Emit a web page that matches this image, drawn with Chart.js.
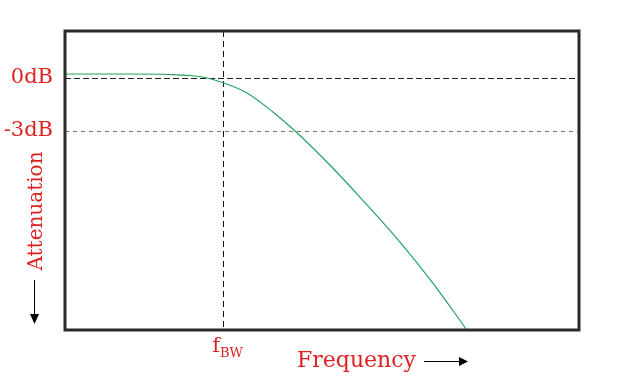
<!DOCTYPE html>
<html>
<head>
<meta charset="utf-8">
<script src="https://cdn.jsdelivr.net/npm/chart.js@4"></script>
<style>
  html, body { margin: 0; padding: 0; background: #fff; }
  #wrap { width: 630px; height: 378px; }
</style>
</head>
<body>
<div id="wrap"><canvas id="myChart"></canvas></div>
<script>
// frequency (relative to fBW) and attenuation in dB
const freq = [0, 0.409, 0.660, 0.786, 0.881, 1.0, 1.145, 1.308, 1.447, 1.635, 1.855, 2.107, 2.314, 2.528];
const gain = [0.226, 0.226, 0.198, 0.142, 0.028, -0.283, -0.849, -1.925, -3.0, -4.641, -6.736, -9.283, -11.604, -14.264];
const dbTicks = [0, -3];
const dbLabels = ['0dB', '-3dB'];
const fBW = 1;

const red = '#dd2222';
const serif = '"DejaVu Serif", serif';

const points = freq.map((f, i) => ({ x: f, y: gain[i] }));

// draws box, axis titles, arrows and the f_BW label
const decor = {
  id: 'decor',
  afterDraw(chart) {
    const { ctx, chartArea: a, scales } = chart;
    ctx.save();
    ctx.strokeStyle = '#2a2a2a';
    ctx.lineWidth = 3;
    ctx.strokeRect(a.left, a.top, a.right - a.left, a.bottom - a.top);

    ctx.fillStyle = red;
    // f_BW under the cutoff line
    const xf = scales.x.getPixelForValue(fBW);
    ctx.font = '21px ' + serif;
    ctx.textBaseline = 'alphabetic';
    ctx.textAlign = 'right';
    ctx.fillText('f', xf - 4, 352);
    ctx.font = '13px ' + serif;
    ctx.textAlign = 'left';
    ctx.fillText('BW', xf - 4, 357);

    // Frequency + arrow
    ctx.font = '22px ' + serif;
    ctx.textAlign = 'left';
    ctx.fillText('Frequency', 297, 367);
    ctx.strokeStyle = '#000';
    ctx.fillStyle = '#000';
    ctx.lineWidth = 1;
    ctx.beginPath();
    ctx.moveTo(424, 361.5);
    ctx.lineTo(460, 361.5);
    ctx.stroke();
    ctx.beginPath();
    ctx.moveTo(468, 361.5);
    ctx.lineTo(459, 357);
    ctx.lineTo(459, 366);
    ctx.closePath();
    ctx.fill();

    // Attenuation + arrow
    ctx.save();
    ctx.translate(42, 211);
    ctx.rotate(-Math.PI / 2);
    ctx.fillStyle = red;
    ctx.font = '20px ' + serif;
    ctx.textAlign = 'center';
    ctx.fillText('Attenuation', 0, 0);
    ctx.restore();
    ctx.beginPath();
    ctx.moveTo(34.5, 280);
    ctx.lineTo(34.5, 316);
    ctx.stroke();
    ctx.beginPath();
    ctx.moveTo(34.5, 324);
    ctx.lineTo(30, 314);
    ctx.lineTo(39, 314);
    ctx.closePath();
    ctx.fill();
    ctx.restore();
  }
};

new Chart(document.getElementById('myChart'), {
  type: 'line',
  data: {
    datasets: [{
      data: points,
      borderColor: '#22a35e',
      borderWidth: 1.2,
      pointRadius: 0,
      fill: false,
      cubicInterpolationMode: 'monotone'
    }]
  },
  options: {
    responsive: true,
    maintainAspectRatio: false,
    animation: false,
    layout: { padding: { top: 31, right: 51, left: 0, bottom: 0 } },
    plugins: { legend: { display: false }, tooltip: { enabled: false } },
    scales: {
      x: {
        type: 'linear',
        min: 0,
        max: 3.233,
        afterBuildTicks: (s) => { s.ticks = [{ value: fBW }]; },
        afterFit: (s) => { s.height = 48; },
        ticks: { display: false },
        grid: { color: '#111', lineWidth: 1, drawTicks: false },
        border: { display: false, dash: [6, 4] }
      },
      y: {
        type: 'linear',
        min: -14.26,
        max: 2.66,
        afterBuildTicks: (s) => { s.ticks = dbTicks.map(v => ({ value: v })); },
        afterFit: (s) => { s.width = 65; },
        ticks: {
          color: red,
          padding: 12,
          font: { family: 'DejaVu Serif', size: 21 },
          callback: (v) => dbLabels[dbTicks.indexOf(v)]
        },
        grid: {
          drawTicks: false,
          lineWidth: 1,
          color: (c) => c.tick && c.tick.value === 0 ? '#222' : '#8a7070'
        },
        border: {
          display: false,
          dash: (c) => c.tick && c.tick.value === 0 ? [6, 3] : [4, 4]
        }
      }
    }
  },
  plugins: [decor]
});
</script>
</body>
</html>
